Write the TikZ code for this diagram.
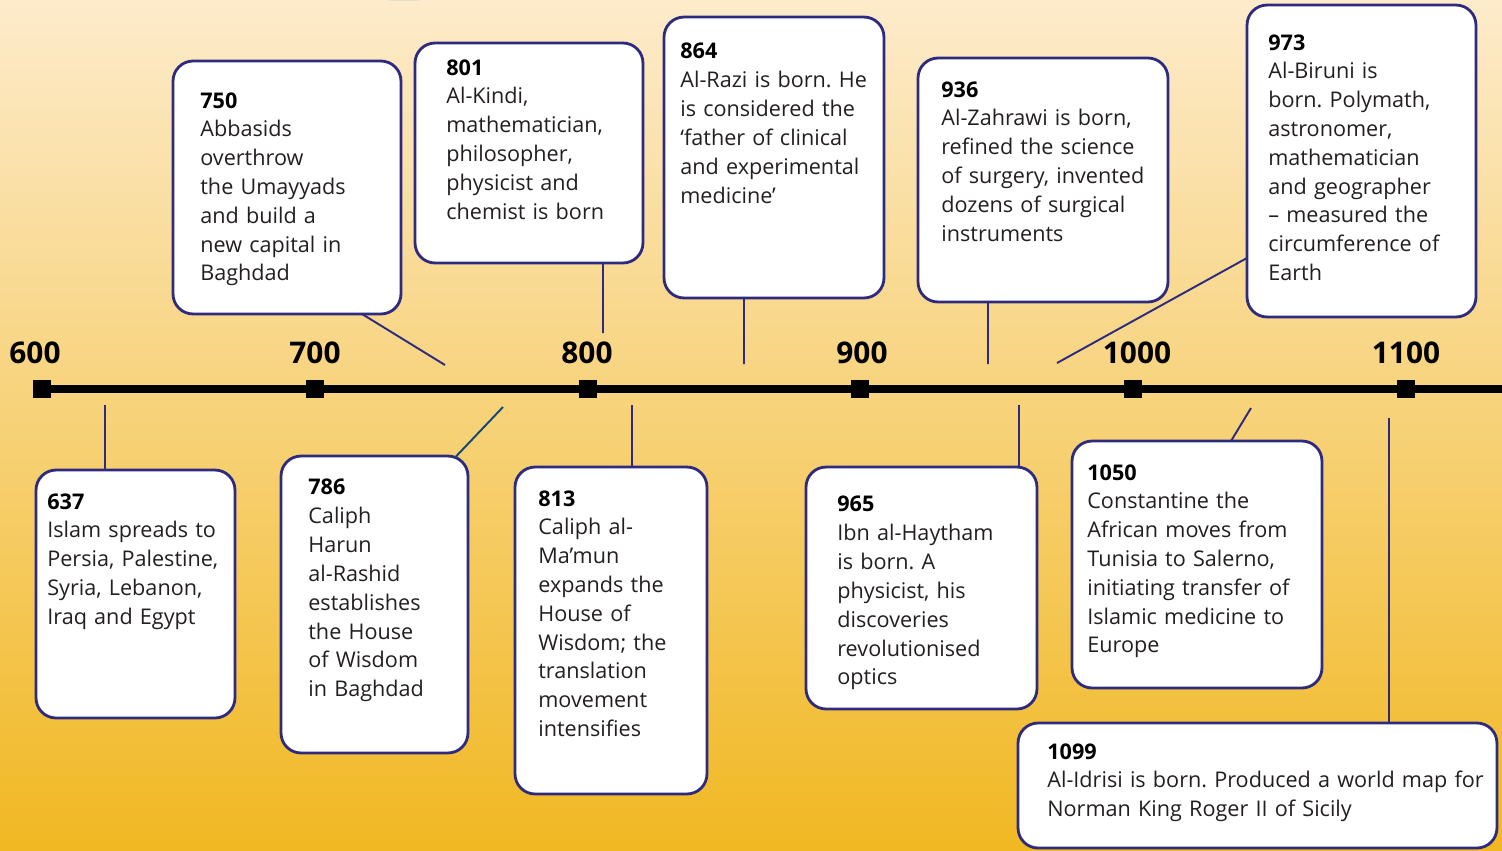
\documentclass[tikz,border=0pt]{standalone}
\usepackage{fontspec}
\setmainfont{Open Sans}
\usepackage{xcolor}
\usepackage{tikz}
\usetikzlibrary{positioning,calc}
\frenchspacing

\definecolor{navy}{HTML}{2E2B7F}
\definecolor{deepblue}{HTML}{0E4A72}
\definecolor{inkgray}{HTML}{231F20}
\definecolor{bgtop}{HTML}{FDEBCB}
\definecolor{bgmid}{HTML}{F9D792}
\definecolor{bgbot}{HTML}{F1B823}
\definecolor{blob}{HTML}{5B8DB3}

\begin{document}
\begin{tikzpicture}[x=0.02cm, y=-0.02cm,
    event/.style={draw=navy, fill=white, line width=1.6pt, rounded corners=0.4cm, inner sep=0pt, outer sep=0pt},
    info/.style={anchor=north west, inner sep=0pt, text width=9cm, align=left, text=inkgray, font=\fontsize{12.3}{16.4}\selectfont},
    year/.style={anchor=south, inner sep=0pt, font=\fontsize{17}{20}\selectfont\bfseries},
    notch/.style={fill=black, minimum size=0.36cm, inner sep=0pt},
    link/.style={draw=navy, line width=1.1pt},
]
\useasboundingbox (0,0) rectangle (1502,850);
\shade[top color=bgtop, middle color=bgmid, bottom color=bgbot] (0,0) rectangle (1502,850);
\fill[blob] (389,0) arc[start angle=180, end angle=360, x radius=15, y radius=6] -- cycle;

% time axis
\node[notch] (t600) at (42,389) {};
\node[notch] (t700) at (315,389) {};
\node[notch] (t800) at (588,389) {};
\node[notch] (t900) at (860,389) {};
\node[notch] (t1000) at (1133,389) {};
\node[notch] (t1100) at (1406,389) {};
\coordinate (tend) at (1502,389);
\draw[line width=0.16cm] (t600.center) -- (tend);

\node[year] (y600) at (35,364) {600};
\node[year] (y700) at (315,364) {700};
\node[year] (y800) at (587,364) {800};
\node[year] (y900) at (862,364) {900};
\node[year] (y1000) at (1137,364) {1000};
\node[year] (y1100) at (1406,364) {1100};

% boxes above the axis
\node[event, minimum width=4.56cm, minimum height=5.06cm] (b750) at (287,187.5) {};
\node[event, minimum width=4.56cm, minimum height=4.40cm] (b801) at (529,153) {};
\node[event, minimum width=4.40cm, minimum height=5.62cm] (b864) at (774,157.5) {};
\node[event, minimum width=5.00cm, minimum height=4.88cm] (b936) at (1043,180) {};
\node[event, minimum width=4.58cm, minimum height=6.24cm] (b973) at (1361.5,161) {};

% boxes below the axis
\node[event, minimum width=3.98cm, minimum height=4.96cm] (b637) at (135.5,594) {};
\node[event, minimum width=3.74cm, minimum height=5.94cm] (b786) at (374.5,604.5) {};
\node[event, minimum width=3.84cm, minimum height=6.54cm] (b813) at (611,630.5) {};
\node[event, minimum width=4.62cm, minimum height=4.84cm] (b965) at (921.5,588) {};
\node[event, minimum width=5.00cm, minimum height=4.94cm] (b1050) at (1197,564.5) {};
\node[event, minimum width=9.58cm, minimum height=2.50cm] (b1099) at (1257.5,785.5) {};

% leader lines
\coordinate (p750) at (445,365);
\coordinate (p801) at (603,333);
\coordinate (p864) at (744,364);
\coordinate (p936) at (988,364);
\coordinate (p973) at (1057,363);
\coordinate (p637) at (105,405);
\coordinate (p786) at (503,407);
\coordinate (p813) at (632,405);
\coordinate (p965) at (1019,405);
\coordinate (p1050) at (1251,408);
\coordinate (p1099) at (1389,418);
\draw[link] ([xshift=-0.78cm]b750.south east) -- (p750);
\draw[link] ([xshift=-0.80cm]b801.south east) -- (p801);
\draw[link] ([xshift=1.60cm]b864.south west) -- (p864);
\draw[link] ([xshift=1.40cm]b936.south west) -- (p936);
\draw[link] ([yshift=-1.94cm]b973.west) -- (p973);
\draw[link] ([xshift=1.38cm]b637.north west) -- (p637);
\draw[link, draw=deepblue] ([xshift=-0.26cm, yshift=-0.03cm]b786.north east) -- (p786);
\draw[link] ([xshift=2.34cm]b813.north west) -- (p813);
\draw[link] ([xshift=-0.36cm]b965.north east) -- (p965);
\draw[link] ([xshift=3.18cm]b1050.north west) -- (p1050);
\draw[link] ([xshift=7.42cm]b1099.north west) -- (p1099);

% texts
\node[info] (x750) at (200,92) {\textbf{\color{black}750}\\Abbasids\\overthrow\\the Umayyads\\and build a\\new capital in\\Baghdad};
\node[info] (x801) at (446,59) {\textbf{\color{black}801}\\Al-Kindi,\\mathematician,\\philosopher,\\physicist and\\chemist is born};
\node[info] (x864) at (680,43) {\textbf{\color{black}864}\\Al-Razi is born. He\\is considered the\\‘father of clinical\\and experimental\\medicine’};
\node[info] (x936) at (941,81) {\textbf{\color{black}936}\\Al-Zahrawi is born,\\refined the science\\of surgery, invented\\dozens of surgical\\instruments};
\node[info] (x973) at (1268,34) {\textbf{\color{black}973}\\Al-Biruni is\\born. Polymath,\\astronomer,\\mathematician\\and geographer\\– measured the\\circumference of\\Earth};
\node[info] (x637) at (47,493) {\textbf{\color{black}637}\\Islam spreads to\\Persia, Palestine,\\Syria, Lebanon,\\Iraq and Egypt};
\node[info] (x786) at (308,479) {\textbf{\color{black}786}\\Caliph\\Harun\\al-Rashid\\establishes\\the House\\of Wisdom\\in Baghdad};
\node[info] (x813) at (538,490) {\textbf{\color{black}813}\\Caliph al-\\Ma’mun\\expands the\\House of\\Wisdom; the\\translation\\movement\\intensifies};
\node[info] (x965) at (837,496) {\textbf{\color{black}965}\\Ibn al-Haytham\\is born. A\\physicist, his\\discoveries\\revolutionised\\optics};
\node[info] (x1050) at (1087,464) {\textbf{\color{black}1050}\\Constantine the\\African moves from\\Tunisia to Salerno,\\initiating transfer of\\Islamic medicine to\\Europe};
\node[info] (x1099) at (1047,743) {\textbf{\color{black}1099}\\Al-Idrisi is born. Produced a world map for\\Norman King Roger II of Sicily};
\end{tikzpicture}
\end{document}
